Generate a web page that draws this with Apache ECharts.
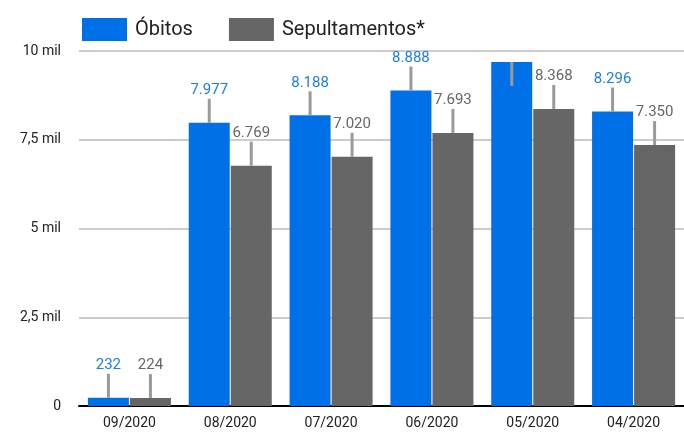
<!DOCTYPE html>
<html>
<head>
<meta charset="utf-8">
<script src="https://cdn.jsdelivr.net/npm/echarts@6/dist/echarts.min.js"></script>
<style>
  html, body { margin: 0; padding: 0; background: #fff; }
  #chart { width: 684px; height: 436px; }
</style>
</head>
<body>
<div id="chart"></div>
<script>
var categories = ['09/2020', '08/2020', '07/2020', '06/2020', '05/2020', '04/2020']
var obitos = [232, 7977, 8188, 8888, 9690, 8296]
var sepultamentos = [224, 6769, 7020, 7693, 8368, 7350]
var seriesNames = ['Óbitos', 'Sepultamentos*']
var yTicks = [0, 2500, 5000, 7500, 10000]

var BLUE = '#0070e8'
var GRAY = '#666666'
var Y_MAX = 10000
var LABEL_ROOM = 900 // approx. space needed above a bar for its label

var fmtNum = function (v) {
    return String(v).replace(/\B(?=(\d{3})+(?!\d))/g, '.')
}

var fmtTick = function (v) {
    if (v == 0) return '0'
    return String(v / 1000).replace('.', ',') + ' mil'
}

var makeData = function (values) {
    return values.map(function (v) {
        return { value: v, label: { show: v + LABEL_ROOM < Y_MAX } }
    })
}

// gray leader lines from the bar top toward the label
var leaderSeries = function (values, side) {
    return {
        type: 'custom',
        silent: true,
        z: 5,
        data: values.map(function (v, i) { return [i, v] }),
        renderItem: function (params, api) {
            var i = api.value(0)
            var top = api.coord([i, api.value(1)])
            var gridTop = api.coord([i, Y_MAX])[1]
            var x = top[0] + side * 21
            var y2 = top[1] - 25 < gridTop ? top[1] + 24 : top[1] - 24
            return {
                type: 'line',
                shape: { x1: x, y1: top[1], x2: x, y2: y2 },
                style: { stroke: '#9a9a9a', lineWidth: 3 }
            }
        }
    }
}

var chart = echarts.init(document.getElementById('chart'))
chart.setOption({
    animation: false,
    textStyle: { fontFamily: 'Roboto' },
    legend: {
        left: 77,
        top: 13,
        icon: 'rect',
        itemWidth: 45,
        itemHeight: 23,
        itemGap: 36,
        itemStyle: { borderWidth: 0 },
        textStyle: { fontSize: 20, color: '#222', fontFamily: 'Roboto', padding: [0, 0, 0, 3] },
        data: seriesNames
    },
    grid: { left: 79, top: 51, width: 612, height: 355, containLabel: false },
    xAxis: {
        type: 'category',
        data: categories,
        axisTick: { show: false },
        axisLine: { lineStyle: { color: '#000', width: 2 } },
        axisLabel: { fontSize: 14, color: '#222', margin: 10, fontFamily: 'Roboto' }
    },
    yAxis: {
        type: 'value',
        min: 0,
        max: Y_MAX,
        interval: 2500,
        axisLine: { show: false },
        axisTick: { show: false },
        splitLine: { lineStyle: { color: '#cccccc', width: 2 } },
        axisLabel: {
            fontSize: 14, color: '#222', margin: 18, fontFamily: 'Roboto',
            formatter: function (v) { return yTicks.indexOf(v) >= 0 ? fmtTick(v) : '' }
        }
    },
    series: [
        {
            name: seriesNames[0],
            type: 'bar',
            barWidth: 41,
            barGap: '2.5%',
            itemStyle: { color: BLUE },
            label: {
                position: 'top', distance: 25, fontSize: 15, color: '#1a7ff0',
                fontFamily: 'Roboto',
                formatter: function (p) { return fmtNum(p.value) }
            },
            data: makeData(obitos)
        },
        {
            name: seriesNames[1],
            type: 'bar',
            barWidth: 41,
            itemStyle: { color: GRAY },
            label: {
                position: 'top', distance: 25, fontSize: 15, color: '#666',
                fontFamily: 'Roboto',
                formatter: function (p) { return fmtNum(p.value) }
            },
            data: makeData(sepultamentos)
        },
        leaderSeries(obitos, -1),
        leaderSeries(sepultamentos, 1)
    ]
})
</script>
</body>
</html>
